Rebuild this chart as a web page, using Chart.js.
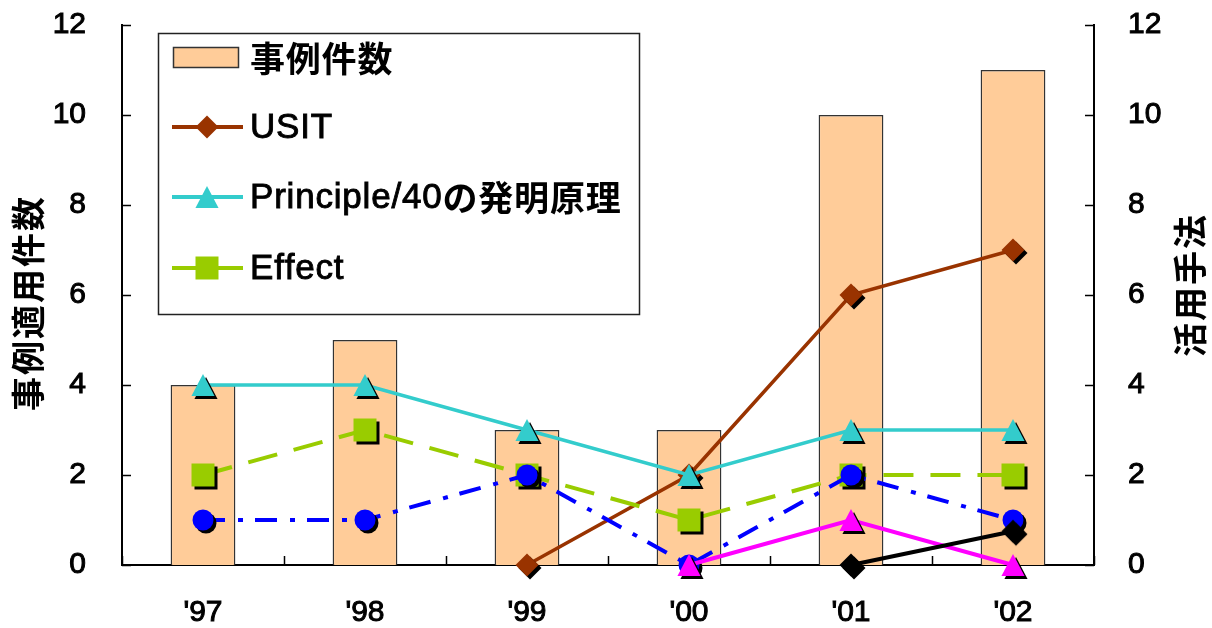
<!DOCTYPE html>
<html>
<head>
<meta charset="utf-8">
<script src="https://cdn.jsdelivr.net/npm/chart.js@4.4.1/dist/chart.umd.min.js"></script>
<style>
  html, body { margin: 0; padding: 0; background: #fff; }
  #wrap { width: 1212px; height: 628px; }
</style>
</head>
<body>
<div id="wrap"><canvas id="c" width="1212" height="628"></canvas></div>
<script>
// ---- data ----
const years = ["'97", "'98", "'99", "'00", "'01", "'02"];
const caseCounts = [4, 5, 3, 3, 10, 11];
const usit = [null, null, 0, 2, 6, 7];
const principle = [4, 4, 3, 2, 3, 3];
const effect = [2, 3, 2, 1, 2, 2];
const blueSeries = [1, 1, 2, 0, 2, 1];
const magentaSeries = [null, null, null, 0, 1, 0];
const blackSeries = [null, null, null, null, 0, 0.75];
const yTicks = [0, 2, 4, 6, 8, 10, 12];
const leftTitle = '事例適用件数';
const rightTitle = '活用手法';
const legendNames = ['事例件数', 'USIT', 'Principle/40の発明原理', 'Effect'];

// ---- styles ----
const BAR = '#FFCC99', BROWN = '#993300', CYAN = '#33CCCC', GREEN = '#99CC00';
const BLUE = '#0000FF', MAGENTA = '#FF00FF', BLACK = '#000000';
const LATIN = "'Liberation Sans', Arial, sans-serif";
const CJK = "'Noto Sans CJK JP', 'Noto Sans CJK SC', sans-serif";

function shapePath(g, shape, r) {
  g.beginPath();
  if (shape === 'diamond') { g.moveTo(0, -r); g.lineTo(r, 0); g.lineTo(0, r); g.lineTo(-r, 0); }
  else if (shape === 'triangle') { g.moveTo(0, -r); g.lineTo(r * 1.05, r); g.lineTo(-r * 1.05, r); }
  else if (shape === 'square') { g.rect(-r, -r, 2 * r, 2 * r); }
  else { g.arc(0, 0, r, 0, Math.PI * 2); }
  g.closePath();
}

// marker sprite with a hard black drop shadow
function marker(shape, color, r, shadow) {
  let D = Math.ceil(2 * (r * 1.1 + shadow + 2));
  if (D % 2) D++;
  const cv = document.createElement('canvas');
  cv.width = D; cv.height = D;
  const g = cv.getContext('2d');
  g.translate(D / 2, D / 2);
  if (shadow) {
    g.save(); g.translate(shadow, shadow);
    shapePath(g, shape, r); g.fillStyle = '#000'; g.fill();
    g.restore();
  }
  shapePath(g, shape, r); g.fillStyle = color; g.fill();
  return cv;
}

const SH = 3;
const mk = {
  diamond: (c, s) => marker('diamond', c, 11.5, s),
  triangle: (c, s) => marker('triangle', c, 11, s),
  square: (c, s) => marker('square', c, 11.5, s),
  circle: (c, s) => marker('circle', c, 10.5, s)
};

function lineSet(label, data, color, width, dash, shape, order) {
  return {
    type: 'line', label, data, yAxisID: 'y1', order,
    borderColor: color, backgroundColor: color, borderWidth: width,
    borderDash: dash, tension: 0, spanGaps: false, clip: false,
    pointStyle: mk[shape](color, SH), pointRadius: 12, pointHoverRadius: 12
  };
}

// mixed-script text: Latin run regular, CJK run bold
function drawMixed(g, text, x, y, size, spacing) {
  let cx = x;
  for (const ch of text) {
    const cjk = ch.charCodeAt(0) > 0x2E80;
    g.font = cjk ? `bold ${size}px ${CJK}` : `${size}px ${LATIN}`;
    g.lineWidth = cjk ? 0 : 0.9;
    g.fillText(ch, cx, y);
    if (!cjk) g.strokeText(ch, cx, y);
    cx += g.measureText(ch).width + spacing;
  }
}

const legendPlugin = {
  id: 'boxLegend',
  afterDraw(chart) {
    const g = chart.ctx;
    g.save();
    // frame
    g.fillStyle = '#fff';
    g.fillRect(158, 33, 482, 282);
    g.strokeStyle = '#222'; g.lineWidth = 1.5;
    g.strokeRect(158.5, 33.5, 481, 281);
    const rows = [58, 127, 197, 268];
    // bar swatch
    g.fillStyle = BAR; g.fillRect(173, 47, 66, 21);
    g.strokeStyle = '#333'; g.lineWidth = 1.5; g.strokeRect(173.5, 47.5, 65, 20);
    // line swatches
    const lineRows = [
      { c: BROWN, s: 'diamond' }, { c: CYAN, s: 'triangle' }, { c: GREEN, s: 'square' }
    ];
    lineRows.forEach((o, i) => {
      const y = rows[i + 1];
      g.strokeStyle = o.c; g.lineWidth = 4; g.setLineDash([]);
      g.beginPath(); g.moveTo(172, y); g.lineTo(243, y); g.stroke();
      const img = mk[o.s](o.c, 0);
      g.drawImage(img, 207 - img.width / 2, y - img.height / 2);
    });
    // labels
    g.fillStyle = '#000'; g.strokeStyle = '#000';
    g.textBaseline = 'middle'; g.textAlign = 'left';
    legendNames.forEach((t, i) => drawMixed(g, t, 250, rows[i] + 1, 35, 0.8));
    g.restore();
  }
};

const framePlugin = {
  id: 'frameTicks',
  afterDraw(chart) {
    const { ctx: g, chartArea: a, scales } = chart;
    g.save();
    g.strokeStyle = '#000'; g.lineWidth = 1.5;
    g.beginPath();
    yTicks.forEach(v => {
      const pl = Math.round(scales.y.getPixelForValue(v)) + 0.5;
      g.moveTo(a.left, pl); g.lineTo(a.left + 9, pl);
      const pr = Math.round(scales.y1.getPixelForValue(v)) + 0.5;
      g.moveTo(a.right, pr); g.lineTo(a.right - 9, pr);
    });
    for (let i = 0; i <= years.length; i++) {
      const px = Math.round(scales.x.getPixelForValue(i - 0.5)) + 0.5;
      g.moveTo(px, a.bottom); g.lineTo(px, a.bottom - 9);
    }
    g.stroke();
    // axis titles, both reading bottom-to-top
    g.fillStyle = '#000'; g.textAlign = 'center'; g.textBaseline = 'middle';
    g.font = `bold 34px ${CJK}`;
    if ('letterSpacing' in g) g.letterSpacing = '2px';
    g.save(); g.translate(28, (a.top + a.bottom) / 2 + 8); g.rotate(-Math.PI / 2);
    g.fillText(leftTitle, 0, 0); g.restore();
    g.save(); g.translate(1190, (a.top + a.bottom) / 2 - 10); g.rotate(-Math.PI / 2);
    g.fillText(rightTitle, 0, 0); g.restore();
    g.restore();
  }
};

Chart.defaults.font.family = LATIN;
Chart.defaults.color = '#000';

const tickFont = { size: 30 };

new Chart(document.getElementById('c'), {
  data: {
    labels: years,
    datasets: [
      {
        type: 'bar', label: legendNames[0], data: caseCounts, yAxisID: 'y', order: 10,
        backgroundColor: BAR, borderColor: '#333', borderWidth: 1.5,
        barPercentage: 0.4, categoryPercentage: 1
      },
      lineSet(legendNames[1], usit, BROWN, 3.5, [], 'diamond', 6),
      lineSet(legendNames[2], principle, CYAN, 3.5, [], 'triangle', 5),
      lineSet(legendNames[3], effect, GREEN, 4, [30, 17], 'square', 4),
      lineSet('blue', blueSeries, BLUE, 4, [22, 13, 5, 12], 'circle', 3),
      lineSet('magenta', magentaSeries, MAGENTA, 4, [], 'triangle', 2),
      lineSet('black', blackSeries, BLACK, 4, [], 'diamond', 1)
    ]
  },
  options: {
    responsive: false,
    animation: false,
    layout: { padding: { top: 25, left: 0, right: 0, bottom: 0 } },
    plugins: { legend: { display: false }, tooltip: { enabled: false } },
    scales: {
      x: {
        type: 'category', offset: true,
        grid: { display: false },
        border: { display: true, color: '#000', width: 2 },
        ticks: { font: tickFont, color: '#000', padding: 22, maxRotation: 0,
                 textStrokeColor: '#000', textStrokeWidth: 1 },
        afterFit: s => { s.height = 63; s.paddingLeft = 0; s.paddingRight = 0; }
      },
      y: {
        position: 'left', min: 0, max: 12,
        grid: { display: false },
        border: { display: true, color: '#000', width: 2 },
        ticks: { stepSize: 2, font: tickFont, color: '#000', padding: 28,
                 textStrokeColor: '#000', textStrokeWidth: 1 },
        afterFit: s => { s.width = 122; s.paddingTop = 0; s.paddingBottom = 0; }
      },
      y1: {
        position: 'right', min: 0, max: 12,
        grid: { display: false },
        border: { display: true, color: '#000', width: 2 },
        ticks: { stepSize: 2, font: tickFont, color: '#000', padding: 26,
                 textStrokeColor: '#000', textStrokeWidth: 1 },
        afterFit: s => { s.width = 118; s.paddingTop = 0; s.paddingBottom = 0; }
      }
    }
  },
  plugins: [framePlugin, legendPlugin]
});
</script>
</body>
</html>
